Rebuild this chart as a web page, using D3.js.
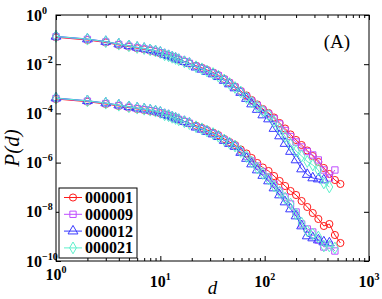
<!DOCTYPE html>
<html>
<head>
<meta charset="utf-8">
<script src="https://cdn.jsdelivr.net/npm/d3@7"></script>
<style>
  body { margin: 0; background: #fff; }
  svg { display: block; }
</style>
</head>
<body>
<svg id="chart"></svg>
<script>
// distances d shared by all curves (each curve uses the first n of them)
const dValues = [1, 2, 3, 4, 5, 6, 7, 8, 9, 10, 11, 12, 13, 14, 15, 17, 19, 22, 25, 28, 32, 36, 41, 46, 52, 59,
  67, 75, 85, 96, 109, 123, 139, 157, 177, 200, 226, 256, 289, 327, 369, 417, 471, 532]

const seriesNames = ['000001', '000009', '000012', '000021']

// upper group of curves
const upper000001 = [0.124, 0.0963, 0.0762, 0.0603, 0.0514, 0.0443, 0.0400, 0.0354, 0.0316, 0.0277,
  0.0248, 0.0224, 0.0196, 0.0175, 0.0155, 0.0128, 0.0108, 8.69e-3, 7.14e-3, 5.81e-3, 4.60e-3, 3.57e-3,
  2.50e-3, 1.80e-3, 1.24e-3, 8.14e-4, 5.34e-4, 3.50e-4, 2.30e-4, 1.51e-4, 1.04e-4, 6.81e-5, 4.07e-5,
  2.43e-5, 1.39e-5, 8.29e-6, 5.19e-6, 3.10e-6, 1.85e-6, 1.06e-6, 6.03e-7, 3.44e-7, 1.96e-7, 1.35e-7]
const upper000009 = [0.130, 0.101, 0.0799, 0.0632, 0.0539, 0.0464, 0.0419, 0.0371, 0.0331, 0.0291,
  0.0248, 0.0224, 0.0196, 0.0175, 0.0155, 0.0128, 0.0108, 8.29e-3, 6.81e-3, 5.55e-3, 4.39e-3, 3.41e-3,
  2.39e-3, 1.72e-3, 1.18e-3, 7.77e-4, 4.86e-4, 3.19e-4, 2.10e-4, 1.37e-4, 9.45e-5, 6.20e-5, 3.71e-5,
  2.02e-5, 1.15e-5, 6.88e-6, 4.31e-6, 2.83e-6, 2.04e-6, 1.28e-6, 5.00e-7, 2.37e-7, 5.00e-7]
const upper000012 = [0.136, 0.106, 0.0837, 0.0662, 0.0565, 0.0486, 0.0439, 0.0389, 0.0347, 0.0305,
  0.0248, 0.0224, 0.0196, 0.0175, 0.0155, 0.0128, 0.0108, 7.55e-3, 6.20e-3, 5.05e-3, 4.00e-3, 3.10e-3,
  2.18e-3, 1.57e-3, 1.08e-3, 7.07e-4, 4.03e-4, 2.41e-4, 1.44e-4, 8.61e-5, 5.92e-5, 2.43e-5, 1.21e-5,
  5.97e-6, 2.83e-6, 1.28e-6, 5.49e-7, 3.28e-7, 2.37e-7, 2.15e-7, 1.96e-7]
const upper000021 = [0.134, 0.104, 0.0821, 0.0650, 0.0555, 0.0477, 0.0431, 0.0381, 0.0341, 0.0299,
  0.0241, 0.0218, 0.0191, 0.0170, 0.0151, 0.0124, 0.0105, 7.91e-3, 6.50e-3, 5.29e-3, 4.19e-3, 3.25e-3,
  2.28e-3, 1.64e-3, 1.13e-3, 7.41e-4, 4.43e-4, 2.91e-4, 1.91e-4, 1.25e-4, 8.61e-5, 4.69e-5, 2.32e-5,
  1.15e-5, 5.44e-6, 2.96e-6, 1.85e-6, 1.11e-6, 7.99e-7, 5.00e-7, 1.48e-7, 1.02e-7]

// lower group of curves
const lower000001 = [3.85e-4, 2.99e-4, 2.41e-4, 2.00e-4, 1.70e-4, 1.51e-4, 1.37e-4, 1.25e-4, 1.14e-4, 1.01e-4,
  9.02e-5, 8.21e-5, 7.14e-5, 6.38e-5, 5.65e-5, 4.69e-5, 3.96e-5, 3.16e-5, 2.60e-5, 2.11e-5, 1.67e-5, 1.30e-5,
  9.11e-6, 6.88e-6, 5.19e-6, 3.41e-6, 2.34e-6, 1.54e-6, 9.63e-7, 6.32e-7, 4.55e-7, 2.85e-7, 1.79e-7,
  1.12e-7, 7.01e-8, 4.82e-8, 2.75e-8, 1.57e-8, 8.94e-9, 5.10e-9, 2.65e-9, 3.19e-9, 1.14e-9, 5.39e-10]
const lower000009 = [4.03e-4, 3.13e-4, 2.53e-4, 2.10e-4, 1.79e-4, 1.58e-4, 1.44e-4, 1.31e-4, 1.19e-4, 1.06e-4,
  9.02e-5, 8.21e-5, 7.14e-5, 6.38e-5, 5.65e-5, 4.69e-5, 3.96e-5, 2.88e-5, 2.37e-5, 1.93e-5, 1.52e-5, 1.18e-5,
  8.29e-6, 6.26e-6, 4.73e-6, 2.83e-6, 1.77e-6, 1.16e-6, 7.27e-7, 4.35e-7, 2.60e-7, 1.35e-7, 7.01e-8,
  4.00e-8, 2.08e-8, 9.81e-9, 3.19e-9, 2.00e-9, 1.51e-9, 7.14e-10, 3.71e-10, 4.47e-10, 2.55e-10]
const lower000012 = [4.23e-4, 3.28e-4, 2.65e-4, 2.19e-4, 1.87e-4, 1.66e-4, 1.51e-4, 1.37e-4, 1.25e-4, 1.11e-4,
  9.02e-5, 8.21e-5, 7.14e-5, 6.38e-5, 5.65e-5, 4.69e-5, 3.96e-5, 2.75e-5, 2.26e-5, 1.84e-5, 1.45e-5, 1.13e-5,
  7.91e-6, 5.97e-6, 4.51e-6, 2.57e-6, 1.47e-6, 8.77e-7, 5.00e-7, 2.99e-7, 1.79e-7, 9.28e-8, 4.82e-8,
  2.50e-8, 1.30e-8, 6.75e-9, 2.65e-9, 1.04e-9, 8.61e-10, 7.14e-10, 5.92e-10, 5.39e-10]
const lower000021 = [4.15e-4, 3.22e-4, 2.60e-4, 2.15e-4, 1.84e-4, 1.63e-4, 1.48e-4, 1.35e-4, 1.23e-4, 1.09e-4,
  8.77e-5, 7.99e-5, 6.94e-5, 6.20e-5, 5.49e-5, 4.55e-5, 3.85e-5, 2.88e-5, 2.37e-5, 1.93e-5, 1.52e-5, 1.18e-5,
  8.29e-6, 6.26e-6, 4.73e-6, 2.83e-6, 1.77e-6, 1.06e-6, 6.03e-7, 3.61e-7, 2.15e-7, 1.12e-7, 6.38e-8,
  3.64e-8, 2.08e-8, 8.14e-9, 3.50e-9, 1.66e-9, 1.25e-9, 9.45e-10, 4.07e-10, 4.07e-10, 3.38e-10]

const xTickValues = [1, 10, 100, 1000]
const xTickExps = ['0', '1', '2', '3']
const yTickValues = [1, 1e-2, 1e-4, 1e-6, 1e-8, 1e-10]
const yTickExps = ['0', '\u22122', '\u22124', '\u22126', '\u22128', '\u221210']

const width = 382
const height = 299
const plotLeft = 56, plotRight = 369, plotTop = 15, plotBottom = 261

const colors = ['#ff1a1a', '#bf4dff', '#3a3aff', '#5ff0cc']
const symbols = [d3.symbolCircle, d3.symbolSquare, d3.symbolTriangle, d3.symbolDiamond]
const symbolSizes = [40, 40, 42, 40]

const upper = [upper000001, upper000009, upper000012, upper000021]
const lower = [lower000001, lower000009, lower000012, lower000021]

const svg = d3.select('#chart')
  .attr('width', width)
  .attr('height', height)
  .attr('viewBox', `0 0 ${width} ${height}`)

const x = d3.scaleLog().domain([1, 1000]).range([plotLeft, plotRight])
const y = d3.scaleLog().domain([1e-10, 1]).range([plotBottom, plotTop])

const serif = '"Liberation Serif", "Times New Roman", serif'

// minor x ticks 2..9 per decade
const xMinor = []
for (let k = 0; k < 3; k++) {
  for (let m = 2; m <= 9; m++) xMinor.push(m * Math.pow(10, k))
}

function tickAxis(axis, tx, ty) {
  const g = svg.append('g').attr('transform', `translate(${tx},${ty})`).call(axis)
  g.select('.domain').remove()
  g.selectAll('line').attr('stroke', '#000').attr('stroke-width', 1)
  return g
}

tickAxis(d3.axisBottom(x).tickValues(xTickValues).tickSize(-5).tickFormat(''), 0, plotBottom)
tickAxis(d3.axisBottom(x).tickValues(xMinor).tickSize(-3).tickFormat(''), 0, plotBottom)
tickAxis(d3.axisTop(x).tickValues(xTickValues).tickSize(-5).tickFormat(''), 0, plotTop)
tickAxis(d3.axisTop(x).tickValues(xMinor).tickSize(-3).tickFormat(''), 0, plotTop)
tickAxis(d3.axisLeft(y).tickValues(yTickValues).tickSize(-5).tickFormat(''), plotLeft, 0)
tickAxis(d3.axisRight(y).tickValues(yTickValues).tickSize(-5).tickFormat(''), plotRight, 0)

// curves
const line = d3.line()
  .x((v, i) => x(dValues[i]))
  .y(v => y(v))

const groups = [upper, lower]
seriesNames.forEach((name, s) => {
  groups.forEach(group => {
    const vals = group[s]
    svg.append('path')
      .attr('d', line(vals))
      .attr('fill', 'none')
      .attr('stroke', colors[s])
      .attr('stroke-width', 1)

    svg.append('g').selectAll('path')
      .data(vals)
      .join('path')
      .attr('transform', (v, i) => `translate(${x(dValues[i])},${y(v)})`)
      .attr('d', d3.symbol().type(symbols[s]).size(symbolSizes[s]))
      .attr('fill', 'none')
      .attr('stroke', colors[s])
      .attr('stroke-width', 1)
  })
})

// frame
svg.append('rect')
  .attr('x', plotLeft)
  .attr('y', plotTop)
  .attr('width', plotRight - plotLeft)
  .attr('height', plotBottom - plotTop)
  .attr('fill', 'none')
  .attr('stroke', '#000')
  .attr('stroke-width', 1)

// y tick labels
yTickValues.forEach((v, i) => {
  const t = svg.append('text')
    .attr('x', 26)
    .attr('y', y(v) + 5.5)
    .attr('font-family', serif)
    .attr('font-weight', 'bold')
    .attr('font-size', '16px')
    .attr('fill', '#000')
    .text('10')
  t.append('tspan')
    .attr('dy', -7)
    .attr('font-size', '10px')
    .text(yTickExps[i])
})

// x tick labels
xTickValues.forEach((v, i) => {
  const t = svg.append('text')
    .attr('x', x(v))
    .attr('y', i === 0 ? 280 : 287)
    .attr('text-anchor', 'middle')
    .attr('font-family', serif)
    .attr('font-weight', 'bold')
    .attr('font-size', '16px')
    .attr('fill', '#000')
    .text('10')
  t.append('tspan')
    .attr('dy', -7)
    .attr('font-size', '10px')
    .text(xTickExps[i])
})

// axis titles
svg.append('text')
  .attr('x', (plotLeft + plotRight) / 2)
  .attr('y', 294)
  .attr('text-anchor', 'middle')
  .attr('font-family', serif)
  .attr('font-style', 'italic')
  .attr('font-size', '19px')
  .text('d')

svg.append('text')
  .attr('transform', 'translate(19,148) rotate(-90)')
  .attr('text-anchor', 'middle')
  .attr('font-family', serif)
  .attr('font-style', 'italic')
  .attr('font-size', '21px')
  .text('P(d)')

svg.append('text')
  .attr('x', 337)
  .attr('y', 48)
  .attr('text-anchor', 'middle')
  .attr('font-family', serif)
  .attr('font-size', '19px')
  .text('(A)')

// legend
const legX = 59, legY = 188, legW = 78, legH = 70
svg.append('rect')
  .attr('x', legX)
  .attr('y', legY)
  .attr('width', legW)
  .attr('height', legH)
  .attr('fill', '#fff')
  .attr('stroke', '#000')
  .attr('stroke-width', 1)

seriesNames.forEach((name, s) => {
  const cy = legY + 9.5 + s * 16.8
  svg.append('line')
    .attr('x1', legX + 5)
    .attr('x2', legX + 23)
    .attr('y1', cy)
    .attr('y2', cy)
    .attr('stroke', colors[s])
    .attr('stroke-width', 1)
  svg.append('path')
    .attr('transform', `translate(${legX + 14},${cy})`)
    .attr('d', d3.symbol().type(symbols[s]).size(symbolSizes[s])())
    .attr('fill', 'none')
    .attr('stroke', colors[s])
    .attr('stroke-width', 1)
  svg.append('text')
    .attr('x', legX + 26)
    .attr('y', cy + 5.5)
    .attr('font-family', serif)
    .attr('font-weight', 'bold')
    .attr('font-size', '16px')
    .attr('fill', '#000')
    .text(name)
})
</script>
</body>
</html>
